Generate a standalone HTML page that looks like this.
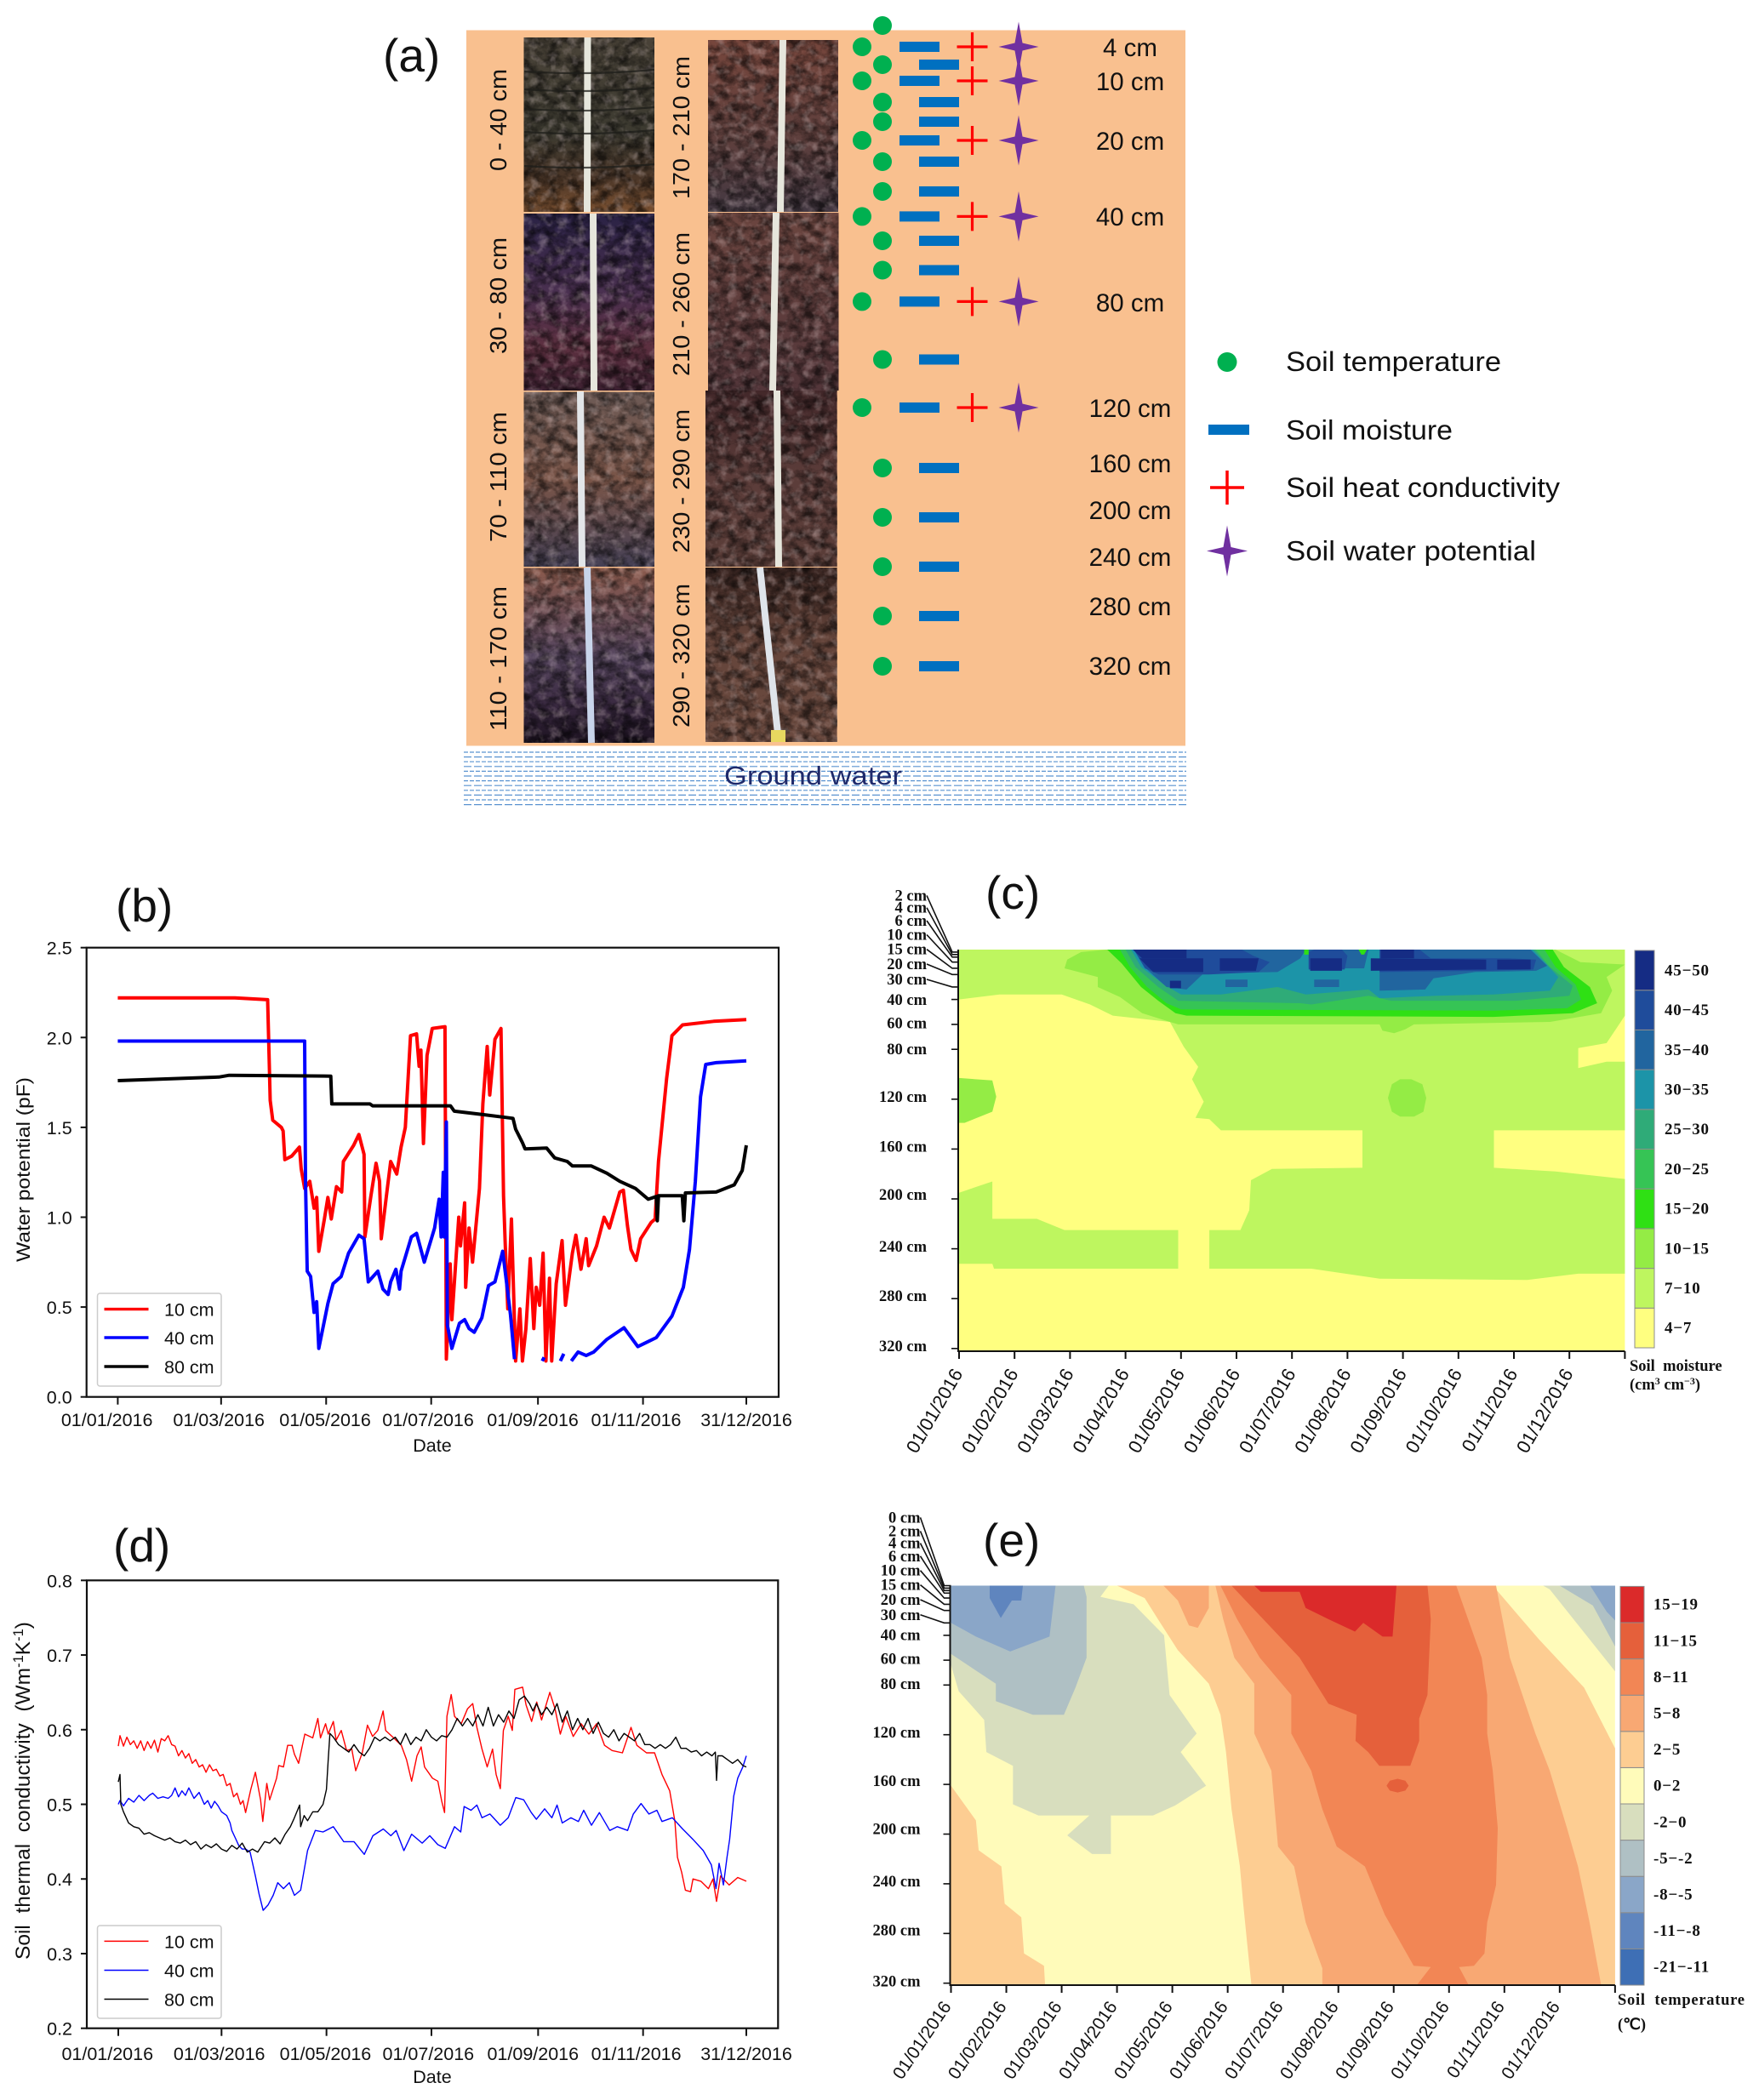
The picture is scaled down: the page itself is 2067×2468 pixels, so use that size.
<!DOCTYPE html>
<html lang="en">
<head>
<meta charset="utf-8">
<title>Soil profile and time series of soil properties</title>
<style>
html,body{margin:0;padding:0;background:#fff}
svg{display:block}
text{font-family:"Liberation Sans",sans-serif;fill:#111}
.serif{font-family:"Liberation Serif",serif;font-weight:bold}
</style>
</head>
<body>
<svg id="fig" xmlns="http://www.w3.org/2000/svg" width="2067" height="2468" viewBox="0 0 2067 2468">
<defs>
<filter id="rough" x="0" y="0" width="100%" height="100%">
<feTurbulence type="fractalNoise" baseFrequency="0.07 0.09" numOctaves="4" seed="7"/>
<feColorMatrix type="matrix" values="0 0 0 0 0  0 0 0 0 0  0 0 0 0 0  2.4 0 0 0 -0.85"/>
</filter>
<filter id="rough2" x="0" y="0" width="100%" height="100%">
<feTurbulence type="fractalNoise" baseFrequency="0.09" numOctaves="3" seed="21"/>
<feColorMatrix type="matrix" values="0 0 0 0 0.85  0 0 0 0 0.7  0 0 0 0 0.7  0 2 0 0 -0.95"/>
</filter>
<linearGradient id="p1" x1="0" y1="0" x2="0" y2="1"><stop offset="0" stop-color="#4a4338"/><stop offset=".55" stop-color="#3c3a30"/><stop offset=".8" stop-color="#4a3628"/><stop offset="1" stop-color="#7a5030"/></linearGradient>
<linearGradient id="p2" x1="0" y1="0" x2="0" y2="1"><stop offset="0" stop-color="#2a2245"/><stop offset=".45" stop-color="#4a3050"/><stop offset=".75" stop-color="#5d3040"/><stop offset="1" stop-color="#3c2030"/></linearGradient>
<linearGradient id="p3" x1="0" y1="0" x2="0" y2="1"><stop offset="0" stop-color="#6d5a55"/><stop offset=".5" stop-color="#7a5548"/><stop offset="1" stop-color="#454055"/></linearGradient>
<linearGradient id="p4" x1="0" y1="0" x2="0" y2="1"><stop offset="0" stop-color="#8a5a4c"/><stop offset=".5" stop-color="#55455e"/><stop offset=".8" stop-color="#38283f"/><stop offset="1" stop-color="#1c1220"/></linearGradient>
<linearGradient id="p5" x1="0" y1="0" x2="0" y2="1"><stop offset="0" stop-color="#76463c"/><stop offset=".6" stop-color="#5d3f3d"/><stop offset="1" stop-color="#433842"/></linearGradient>
<linearGradient id="p6" x1="0" y1="0" x2="0" y2="1"><stop offset="0" stop-color="#6b453f"/><stop offset="1" stop-color="#53363a"/></linearGradient>
<linearGradient id="p7" x1="0" y1="0" x2="0" y2="1"><stop offset="0" stop-color="#43282a"/><stop offset=".5" stop-color="#5c3d3a"/><stop offset="1" stop-color="#5a3d38"/></linearGradient>
<linearGradient id="p8" x1="0" y1="0" x2="0" y2="1"><stop offset="0" stop-color="#3a2622"/><stop offset=".4" stop-color="#64443a"/><stop offset="1" stop-color="#6c4b40"/></linearGradient>
</defs>

<rect x="0" y="0" width="2067" height="2468" fill="#fff"/>

<g id="panel-a">
<rect x="548" y="35.5" width="845" height="841" fill="#F9C08F"/>
<g id="water"></g>
<text x="851" y="922" font-size="31" textLength="209" lengthAdjust="spacingAndGlyphs" style="fill:#1F2A6B">Ground water</text>
<g id="photos"></g>
<g font-size="28">
<text transform="translate(595,201) rotate(-90)" textLength="120" lengthAdjust="spacingAndGlyphs">0 - 40 cm</text>
<text transform="translate(595,416) rotate(-90)" textLength="137" lengthAdjust="spacingAndGlyphs">30 - 80 cm</text>
<text transform="translate(595,637) rotate(-90)" textLength="153" lengthAdjust="spacingAndGlyphs">70 - 110 cm</text>
<text transform="translate(595,859) rotate(-90)" textLength="170" lengthAdjust="spacingAndGlyphs">110 - 170 cm</text>
<text transform="translate(810,234) rotate(-90)" textLength="168" lengthAdjust="spacingAndGlyphs">170 - 210 cm</text>
<text transform="translate(810,442) rotate(-90)" textLength="169" lengthAdjust="spacingAndGlyphs">210 - 260 cm</text>
<text transform="translate(810,650) rotate(-90)" textLength="169" lengthAdjust="spacingAndGlyphs">230 - 290 cm</text>
<text transform="translate(810,855) rotate(-90)" textLength="169" lengthAdjust="spacingAndGlyphs">290 - 320 cm</text>
</g>
<g id="markers"></g>
<g font-size="29.5" text-anchor="middle">
<text x="1328" y="66">4 cm</text>
<text x="1328" y="106">10 cm</text>
<text x="1328" y="176">20 cm</text>
<text x="1328" y="265">40 cm</text>
<text x="1328" y="366">80 cm</text>
<text x="1328" y="490">120 cm</text>
<text x="1328" y="555">160 cm</text>
<text x="1328" y="610">200 cm</text>
<text x="1328" y="665">240 cm</text>
<text x="1328" y="723">280 cm</text>
<text x="1328" y="793">320 cm</text>
</g>
<g font-size="32">
<circle cx="1442" cy="425.5" r="11.5" fill="#00B050"/>
<text x="1511" y="436" textLength="253" lengthAdjust="spacingAndGlyphs">Soil temperature</text>
<rect x="1420" y="499" width="48" height="12" fill="#0070C0"/>
<text x="1511" y="516.5" textLength="196" lengthAdjust="spacingAndGlyphs">Soil moisture</text>
<path d="M1422 573H1462M1442 553V593" stroke="#FF0000" stroke-width="3.5" fill="none"/>
<text x="1511" y="584" textLength="322" lengthAdjust="spacingAndGlyphs">Soil heat conductivity</text>
<path transform="translate(1442,647.5)" d="M0-30L4.5-4.5L24 0L4.5 4.5L0 30L-4.5 4.5L-24 0L-4.5-4.5Z" fill="#7030A0"/>
<text x="1511" y="658.5" textLength="294" lengthAdjust="spacingAndGlyphs">Soil water potential</text>
</g>
</g>

<g font-size="55">
<text x="450" y="84">(a)</text>
<text x="136" y="1083">(b)</text>
<text x="1158" y="1068">(c)</text>
<text x="133" y="1835">(d)</text>
<text x="1155" y="1829">(e)</text>
</g>

<g id="chart-b"></g>
<g id="chart-d"></g>
<g id="chart-c"></g>
<g id="chart-e"></g>

<text transform="translate(35,1483) rotate(-90)" font-size="22" textLength="217" lengthAdjust="spacingAndGlyphs">Water potential (pF)</text>
<text transform="translate(35,2303) rotate(-90)" font-size="24.5" style="white-space:pre">Soil  thermal  conductivity  (Wm<tspan font-size="16.5" dy="-8">-1</tspan><tspan dy="8">K</tspan><tspan font-size="16.5" dy="-8">-1</tspan><tspan dy="8">)</tspan></text>
<text class="serif" x="1915" y="1611" font-size="18.5" style="white-space:pre">Soil  moisture</text>
<text class="serif" x="1915" y="1633" font-size="18.5">(cm<tspan font-size="12" dy="-6">3</tspan><tspan dy="6"> cm</tspan><tspan font-size="12" dy="-6">−3</tspan><tspan dy="6">)</tspan></text>
<text class="serif" x="1901" y="2356" font-size="18.5" style="white-space:pre" textLength="149" lengthAdjust="spacing">Soil  temperature</text>
<text class="serif" x="1901" y="2385" font-size="18.5">(℃)</text>
</svg>

<script>
/* ---------- chart data ---------- */
const dateTickDays = [0, 60, 121, 182, 244, 305, 365];
const dateLabelDays = [-6.3, 58.7, 120.4, 180.2, 241, 301, 365];
const dateLabels = ['01/01/2016','01/03/2016','01/05/2016','01/07/2016','01/09/2016','01/11/2016','31/12/2016'];
const potentialTicks = [0, 0.5, 1, 1.5, 2, 2.5];
const conductivityTicks = [0.2, 0.3, 0.4, 0.5, 0.6, 0.7, 0.8];
const seriesNames = ['10 cm', '40 cm', '80 cm'];

const potential10 = [[0,2.22],[68,2.22],[87,2.21],[88,1.84],[88.5,1.65],[90,1.54],[95,1.5],[96,1.48],[97,1.32],[101,1.34],[105.5,1.39],[106.5,1.27],[108.5,1.16],[111.5,1.2],[114,1.05],[115.5,1.11],[116.7,0.81],[120,0.99],[122,1.11],[124,0.99],[127,1.17],[130,1.14],[131,1.31],[137,1.4],[140,1.46],[143,1.35],[143.5,0.89],[147,1.12],[150,1.3],[152,1.2],[153,0.88],[156,1.12],[158.5,1.31],[162,1.24],[164.5,1.39],[167,1.5],[170,2.01],[173.5,2.02],[175,1.84],[176,1.93],[177.5,1.41],[179.6,1.9],[182.6,2.05],[190,2.06],[190.8,0.21],[193,0.74],[194,0.43],[198,1],[199,0.84],[201.4,1.08],[202,0.61],[204,0.94],[206,0.75],[210,1.16],[212,1.63],[214.5,1.95],[216,1.68],[219,1.99],[222.5,2.05],[224,1.12],[225,0.85],[226.5,0.49],[228.6,0.99],[231,0.2],[233.5,0.49],[235,0.2],[237,0.38],[239.5,0.77],[241.6,0.38],[243,0.61],[245,0.51],[247,0.8],[248.6,0.2],[250.7,0.66],[252,0.2],[254.6,0.63],[258,0.87],[260,0.51],[264,0.8],[266,0.9],[269,0.71],[272,0.88],[273.4,0.73],[278,0.84],[282.4,1],[285.5,0.94],[291.5,1.14],[293.6,1.15],[296,0.95],[298,0.82],[301,0.76],[303.6,0.88],[309.7,0.97],[312,0.99],[314,1.31],[318.7,1.77],[321.8,2.01],[328,2.07],[346,2.09],[365,2.1]];
const potential40 = [[0,1.98],[108.5,1.98],[109,1.2],[110,0.7],[112,0.67],[114,0.47],[115.5,0.53],[116.7,0.27],[122,0.52],[125,0.63],[129.7,0.67],[134,0.8],[140,0.9],[143,0.88],[145.5,0.64],[151,0.7],[154,0.6],[157,0.57],[158.5,0.64],[161.5,0.71],[163.6,0.6],[164.5,0.7],[170.5,0.89],[173.5,0.91],[178,0.75],[184,0.94],[186.6,1.1],[187.8,0.89],[189,1.25],[189.6,0.89],[190.8,1.53],[191.4,0.4],[194,0.27],[198.4,0.41],[201.4,0.43],[204,0.38],[207,0.36],[211.4,0.44],[215.3,0.62],[219,0.64],[223.5,0.81],[225.6,0.65],[228,0.46],[230.4,0.21],null,[246.5,0.2],[247.6,0.22],null,[257,0.2],[259,0.24],null,[263.4,0.2],[267.3,0.25],[272,0.23],[276.4,0.25],[284,0.32],[294,0.385],[302,0.28],[312.7,0.33],[321.8,0.45],[328.4,0.61],[332,0.82],[335.4,1.2],[338.4,1.67],[341.4,1.85],[347.5,1.86],[365,1.87]];
const potential80 = [[0,1.76],[58.7,1.78],[64.7,1.79],[123.7,1.785],[124.3,1.63],[146.4,1.63],[148,1.62],[193.2,1.62],[195.4,1.59],[213,1.57],[229.5,1.55],[231,1.49],[235,1.415],[236.5,1.38],[249,1.385],[253.7,1.33],[261,1.31],[264,1.285],[275,1.285],[284,1.245],[291.5,1.2],[300.6,1.16],[308,1.1],[312.7,1.115],[313.3,0.98],[314,1.12],[327.8,1.12],[328.7,0.98],[329.6,1.135],[347.5,1.14],[358,1.18],[362.6,1.26],[365,1.4]];

const conductivity10 = [[0,.578],[1,.592],[3,.578],[5,.59],[7,.58],[9,.585],[11,.575],[13,.585],[15,.572],[17,.584],[19,.575],[21,.586],[23,.57],[25,.588],[27,.585],[29,.592],[31,.58],[33,.578],[35,.565],[37,.572],[39,.562],[41,.568],[43,.555],[45,.56],[47,.55],[49,.553],[51,.543],[53,.553],[55,.545],[57,.547],[59,.538],[61,.54],[63,.525],[65,.528],[67,.51],[69,.515],[71,.5],[72.5,.505],[74,.489],[77,.52],[79.7,.543],[82.7,.506],[84,.477],[86.3,.528],[88,.506],[92,.535],[93.3,.552],[96,.55],[98.4,.579],[101,.579],[102.4,.567],[104.8,.555],[108.4,.594],[113,.589],[116,.615],[117.5,.589],[120.5,.608],[122,.594],[125,.611],[126.6,.586],[129.6,.599],[132.7,.572],[135.7,.574],[138,.545],[141.8,.569],[144.8,.606],[147.8,.591],[150.8,.599],[153.9,.625],[155.4,.599],[160,.589],[164.5,.579],[167.5,.56],[170.5,.531],[173.6,.565],[176,.577],[178,.55],[182.6,.535],[185.7,.531],[188,.504],[189.6,.489],[191,.618],[193.5,.647],[195.4,.618],[199.3,.608],[203,.628],[206,.635],[208.4,.603],[211.4,.574],[214.4,.55],[217.5,.574],[219.6,.54],[222,.521],[223.8,.599],[226.6,.618],[229,.599],[230.5,.654],[235,.657],[237,.633],[240.2,.611],[243.2,.637],[246,.613],[250.8,.65],[253.8,.628],[256.9,.594],[260,.618],[264.4,.591],[269,.608],[273.5,.594],[278,.608],[282.6,.579],[287,.572],[293,.569],[298,.603],[301.4,.579],[307,.569],[311.7,.569],[316,.54],[320.5,.518],[323.5,.477],[325,.429],[327.4,.409],[329.6,.385],[332.6,.383],[334,.4],[338.6,.397],[343,.387],[345.6,.4],[347.7,.37],[350,.404],[355,.392],[360,.402],[365,.397]];
const conductivity40 = [[0,.5],[1,.505],[3,.498],[6,.508],[9,.503],[12,.512],[15,.505],[18,.512],[20,.515],[23,.508],[26,.51],[29,.508],[31,.512],[33,.522],[35,.51],[37,.518],[39,.512],[41,.522],[44,.508],[47,.516],[50,.5],[52,.505],[54,.495],[56,.504],[58,.498],[60,.49],[63,.485],[65,.475],[66,.465],[68,.455],[70,.445],[72,.44],[74,.44],[76.6,.436],[79.7,.404],[81.8,.38],[84.2,.358],[87,.365],[90,.378],[92.7,.395],[96,.387],[99.4,.395],[102.4,.378],[106,.385],[110,.438],[114.5,.465],[119,.463],[125,.47],[131,.45],[137,.45],[143,.433],[148,.458],[154,.467],[158.4,.458],[161.5,.465],[166,.438],[170.5,.46],[176.6,.448],[181,.458],[185.7,.446],[190,.441],[195.4,.47],[199,.463],[201,.497],[205,.492],[208.4,.499],[211.4,.482],[216,.487],[222,.472],[226.6,.482],[231,.509],[235.6,.506],[240,.489],[243,.48],[247.8,.494],[252,.482],[255,.499],[258,.475],[263,.482],[267.4,.477],[270.5,.492],[275,.472],[279.6,.489],[285.6,.465],[290,.47],[296,.465],[299.3,.487],[303.8,.501],[308.4,.487],[313,.492],[316,.477],[322,.482],[328,.467],[334,.453],[340,.438],[344.7,.419],[347.4,.387],[349.2,.421],[351.7,.392],[353.8,.429],[355.3,.453],[357.7,.511],[360,.535],[363,.55],[365,.565]];
const conductivity80 = [[0,.53],[1,.54],[1.5,.5],[3,.49],[6,.475],[9,.47],[12,.468],[15,.46],[18,.462],[21,.458],[24,.455],[27,.452],[30,.455],[33,.45],[36,.448],[39,.452],[42,.446],[45,.45],[48,.44],[51,.446],[54,.442],[57,.447],[60,.44],[63,.437],[66,.445],[69,.44],[72,.448],[75,.436],[78,.44],[81,.436],[85,.45],[88,.448],[91,.455],[94,.447],[97,.46],[100,.47],[102,.48],[105.4,.499],[106,.47],[108,.485],[110,.478],[113,.49],[116,.49],[119,.5],[121,.52],[122,.56],[123,.595],[125,.59],[128,.58],[131,.575],[134,.57],[137,.58],[140,.57],[143,.565],[146,.575],[149,.59],[152,.585],[155,.59],[158,.585],[161,.59],[164,.58],[167,.595],[170,.58],[173,.59],[176,.585],[179,.6],[182,.59],[185,.585],[188,.592],[191,.59],[194,.6],[197,.615],[200,.605],[203,.615],[206,.605],[209,.62],[212,.605],[215,.63],[218,.605],[221,.62],[224,.61],[227,.625],[230,.615],[233,.64],[236,.645],[239,.635],[241,.625],[243,.635],[246,.62],[249,.63],[252,.62],[255,.635],[258,.61],[261,.625],[264,.6],[267,.615],[270,.6],[273,.615],[276,.595],[279,.61],[282,.595],[285,.59],[288,.6],[291,.585],[294,.595],[297,.59],[300,.585],[303,.595],[306,.58],[309,.58],[312,.575],[315,.58],[318,.575],[321,.58],[324,.59],[327,.575],[330,.575],[333,.57],[336,.572],[339,.565],[342,.57],[345,.565],[347,.57],[347.7,.532],[348.5,.565],[351,.565],[354,.56],[357,.555],[360,.56],[363,.552],[365,.55]];

const monthLabels = ['01/01/2016','01/02/2016','01/03/2016','01/04/2016','01/05/2016','01/06/2016','01/07/2016','01/08/2016','01/09/2016','01/10/2016','01/11/2016','01/12/2016'];
const depthTicksC = [2,4,6,10,15,20,30,40,60,80,120,160,200,240,280,320];
const depthTicksE = [0,2,4,6,10,15,20,30,40,60,80,120,160,200,240,280,320];
const moistureBands = ['4−7','7−10','10−15','15−20','20−25','25−30','30−35','35−40','40−45','45−50'];
const moistureColors = ['#FFFF80','#BEF65F','#94EC45','#2FE014','#36C455','#2FAB78','#1C94A8','#21659F','#1F4C9B','#152C84'];
const temperatureBands = ['-21−-11','-11−-8','-8−-5','-5−-2','-2−0','0−2','2−5','5−8','8−11','11−15','15−19'];
const temperatureColors = ['#3E6FB5','#5F85BE','#8AA6C8','#AFC0C4','#D8DEBE','#FFFBBA','#FDCD92','#F8A873','#F28655','#E5603B','#DB2A2A'];

/* contour regions: band index, then month,depth pairs; painted in order over the base band */
const moistureContours = [
[1,[0,0,0,40,.73,36,1.85,36,2.36,44,2.77,53,3.8,58,4.05,78,4.31,94,4.2,104,4.41,122,4.26,135,4.51,136,4.72,145,7.27,145,7.27,175,5.64,176,5.26,185,5.23,209,5.07,225,4.51,225,4.51,256,6.35,256,7.58,264,10.24,265,11.16,260,12,260,12,184,10.75,178,9.64,175,9.64,145,12,145,12,90,11.67,90,11.16,95,11.16,79,11.67,75,11.88,61,12,53,12,0]],
[1,[0,195,.6,186,.6,216,1.4,216,1.9,225,3.95,225,3.95,256,.63,256,.6,252,0,252]],
[2,[0,103,.6,105,.67,118,.6,130,.1,139,0,139]],
[2,[7.73,119,7.8,108,7.95,104,8.15,104,8.35,108,8.42,119,8.37,130,8.2,134,7.95,134,7.8,130]],
[2,[2.67,0,2.2,2,1.95,8,1.9,15,2.5,22,2.5,30,2.9,38,3.3,51,3.8,58,3.95,60,7.58,60,7.63,65,7.84,67,8.04,64,8.2,60,10.65,58,11.57,51,11.77,33,11.67,22,12,12,11.2,10,10.75,0]],
[3,[2.67,0,2.93,11,3.28,30,3.59,41,3.9,51,4.1,53,9.63,54,11.06,51,11.5,43,11.37,30,10.9,14,10.7,0]],
[4,[2.9,0,3.08,14,3.39,30,3.74,43,4,48,9.63,49,10.96,47,11.21,40,11.11,28,10.75,14,10.55,0]],
[5,[3,0,3.18,14,3.59,30,3.95,41,6.15,43,6.35,44,7.38,37,7.79,41,10.04,41,11,37,11.06,29,10.65,14,10.39,0]],
[6,[3.1,0,3.28,14,3.69,28,4,36,4.72,36,5.74,30,6.25,36,7.38,32,7.58,39,8.6,37,9.63,36,10.65,33,10.8,22,10.34,0]],
[7,[3.15,0,3.39,16,3.74,30,4.1,32,4.41,19,5.74,18,6.15,7,6.25,0]],
[7,[6.3,0,6.3,15,7.3,15,7.38,0]],
[7,[7.58,0,7.58,33,8.4,32,8.55,23,9.3,18,10.4,17,10.6,13,10.3,0]],
[7,[4.8,24,5.2,24,5.2,30,4.8,30]],
[7,[6.4,24,6.85,24,6.85,30,6.4,30]],
[8,[3.15,0,3.35,15,3.6,20,4.5,20,5.4,18,5.6,10,5.3,5,5.1,0]],
[8,[6.3,2,6.3,16,6.95,16,7,5,6.9,0,6.4,0]],
[8,[7.58,0,7.58,18,9.5,17,10.35,16,10.4,8,9.9,7,8.5,7,8.3,0]],
[9,[3.13,0,4.1,0,4.1,7,3.3,7]],
[9,[3.25,7,4.4,7,4.4,18,3.5,18]],
[9,[4.7,7,5.4,7,5.35,17,4.7,17]],
[9,[6.33,7,6.9,7,6.9,17,6.33,17]],
[9,[7.42,7,9.5,8,9.5,16,7.42,17]],
[9,[9.7,8,10.3,8,10.3,16,9.7,16]],
[9,[7.6,0,8.2,0,8.2,7,7.6,7]],
[9,[3.8,25,4,25,4,31,3.8,31]],
[3,[6.22,0,6.3,0,6.3,4,6.22,4]],
[3,[7.2,0,7.35,0,7.3,4,7.25,4]]
];
const temperatureContours = [
[6,[3,0,3.5,10,3.74,27,4.1,52,4.66,79,4.87,104,4.97,134,5.07,180,5.22,226,5.28,256,5.35,287,5.43,322,12,322,12,131,11.44,82,10.62,43,9.85,3,9.8,0]],
[6,[0,161,.45,189,.5,213,.91,226,.97,256,1.27,267,1.32,296,1.68,306,1.7,322,0,322]],
[7,[3.84,0,4.66,0,4.66,18,4.46,34,4.3,32,4.1,12]],
[7,[4.78,0,4.92,27,5.12,58,5.48,79,5.48,119,5.79,149,5.91,210,6.2,226,6.41,271,6.71,308,6.71,322,11.75,322,11.54,271,11.33,226,11.13,195,10.82,149,10.56,119,10.1,58,9.85,0]],
[8,[4.87,0,5.17,27,5.58,58,6.15,88,6.15,119,6.51,149,6.71,180,6.97,210,7.48,226,7.84,265,8.36,306,8.67,307,8.41,322,9.36,322,9.18,307,9.45,306,9.64,296,9.69,271,9.85,241,9.88,195,9.79,149,9.69,119,9.69,88,9.59,58,9.13,0]],
[9,[5.07,0,6.3,58,6.82,95,7.33,104,7.31,125,7.54,134,7.74,145,8.3,145,8.46,125,8.46,107,8.61,88,8.67,27,8.61,0]],
[9,[7.87,161,7.93,157,8.07,155.5,8.21,157,8.27,161,8.21,165,8.07,166.5,7.93,165]],
[10,[5.48,0,5.6,5,6.3,5,6.41,18,6.82,27,7.3,37,7.45,30,7.8,41,7.98,41,8.05,0]],
[4,[2.4,0,2.85,0,2.7,9,3.3,15,3.85,40,3.95,88,4.44,119,4.15,134,4.61,161,4.05,177,3.65,185,2.89,185,2.89,216,2.55,216,2.1,201,2.5,185,1.58,185,1.12,176,1.12,145,.64,134,.6,108,.14,85,0,64,0,0]],
[3,[0,0,0,55,.81,79,.81,93,1.48,104,2.04,104,2.25,82,2.45,58,2.45,9,2.4,0]],
[2,[0,0,0,30,.25,36,.45,41,1.07,53,1.78,41,1.89,0]],
[1,[.7,0,.7,10,.9,26,1.1,12,1.27,12,1.3,0]],
[4,[10.7,0,10.82,3,12,69,12,0]],
[3,[11,0,11.6,16,12,49,12,0]],
[2,[11.55,0,11.85,21,12,28,12,0]]
];

/* ---------- helpers ---------- */
const NS = 'http://www.w3.org/2000/svg';
function mk(tag, attrs, parent, txt) {
  const el = document.createElementNS(NS, tag);
  for (const k in attrs) el.setAttribute(k, attrs[k]);
  if (txt !== undefined) el.textContent = txt;
  parent.appendChild(el);
  return el;
}
function pathFrom(pts, xf, yf) {
  let d = '', pen = false;
  for (const p of pts) {
    if (!p) { pen = false; continue; }
    d += (pen ? 'L' : 'M') + xf(p[0]).toFixed(1) + ' ' + yf(p[1]).toFixed(1);
    pen = true;
  }
  return d;
}

/* ---------- line charts ---------- */
function lineChart(root, cfg) {
  const xf = d => cfg.x0 + d * cfg.dx;
  const yf = v => cfg.y1 - (v - cfg.vmin) * cfg.dy;
  const right = cfg.right, top = yf(cfg.vmax), bottom = yf(cfg.vmin);
  cfg.series.forEach((s, i) => {
    const el = mk('path', {d: pathFrom(s, xf, yf), fill: 'none', stroke: cfg.colors[i], 'stroke-width': cfg.lw, 'stroke-linejoin': 'round'}, root);
    
    
  });
  const frame = mk('rect', {x: cfg.left, y: top, width: right - cfg.left, height: bottom - top, fill: 'none', stroke: '#111', 'stroke-width': 2.2}, root);
  
  
  cfg.yTicks.forEach(v => {
    const t = mk('line', {x1: cfg.left - 7, x2: cfg.left, y1: yf(v), y2: yf(v), stroke: '#111', 'stroke-width': 2}, root);
    
    
    const l = mk('text', {x: cfg.left - 17, y: yf(v) + 8, 'text-anchor': 'end', 'font-size': 21.5}, root, v.toFixed(1));
    
    
  });
  dateTickDays.forEach(d => {
    const t = mk('line', {x1: xf(d), x2: xf(d), y1: bottom, y2: bottom + 9, stroke: '#111', 'stroke-width': 2}, root);
    
    
  });
  dateLabels.forEach((s, i) => {
    const l = mk('text', {x: xf(dateLabelDays[i]), y: cfg.tickBase, 'text-anchor': 'middle', 'font-size': 21.5}, root, s);
    
    
  });
  const xt = mk('text', {x: 508, y: cfg.dateBase, 'text-anchor': 'middle', 'font-size': 21.5}, root, 'Date');
  
  
  const box = mk('rect', {x: 114.5, y: cfg.legendTop, width: 145.5, height: 109, rx: 3, fill: '#fff', stroke: '#ccc', 'stroke-width': 1.5}, root);
  
  
  seriesNames.forEach((n, i) => {
    const y = cfg.legendTop + cfg.legendRows[i];
    const ln = mk('line', {x1: 122.5, x2: 174.5, y1: y, y2: y, stroke: cfg.colors[i], 'stroke-width': cfg.legendLw}, root);
    
    
    const tx = mk('text', {x: 193, y: y + 8, 'font-size': 21.5}, root, n);
    
    
  });
}
lineChart(document.getElementById('chart-b'), {
  x0: 138.4, dx: 2.0236, y1: 1641.7, dy: 211.2, vmin: 0, vmax: 2.5, left: 101.7, right: 915,
  series: [potential10, potential40, potential80], colors: ['#FF0000', '#0000FF', '#000000'], lw: 4,
  yTicks: potentialTicks, tickBase: 1676, dateBase: 1706, legendTop: 1520, legendRows: [18.6, 52, 86], legendLw: 3.4
});
lineChart(document.getElementById('chart-d'), {
  x0: 139, dx: 2.0219, y1: 2383.7, dy: 877.3, vmin: 0.2, vmax: 0.8, left: 102, right: 914.3,
  series: [conductivity10, conductivity40, conductivity80], colors: ['#FF0000', '#0000FF', '#000000'], lw: 1.4,
  yTicks: conductivityTicks, tickBase: 2421, dateBase: 2448, legendTop: 2263, legendRows: [18.4, 52.5, 86.5], legendLw: 1.5
});

/* ---------- contour charts ---------- */
function contourChart(root, cfg) {
  const xf = m => cfg.x0 + m * cfg.dx;
  const yf = d => cfg.y0 + d * cfg.dy;
  const base = mk('rect', {x: xf(0), y: yf(0), width: xf(12) - xf(0), height: cfg.bottom - yf(0), fill: cfg.colors[cfg.base]}, root);
  
  
  cfg.contours.forEach(c => {
    let pts = '';
    for (let i = 0; i < c[1].length; i += 2) pts += xf(c[1][i]).toFixed(1) + ',' + yf(c[1][i + 1]).toFixed(1) + ' ';
    const el = mk('polygon', {points: pts, fill: cfg.colors[c[0]]}, root);
    
    
  });
  const ax = mk('path', {d: 'M' + (xf(0) - 1) + ' ' + yf(0) + 'V' + cfg.bottom + 'H' + xf(12), fill: 'none', stroke: '#111', 'stroke-width': 2}, root);
  
  
  for (let m = 0; m <= 12; m++) {
    const t = mk('line', {x1: xf(m), x2: xf(m), y1: cfg.bottom, y2: cfg.bottom + 9, stroke: '#111', 'stroke-width': 2}, root);
    
    
  }
  monthLabels.forEach((s, m) => {
    const l = mk('text', {transform: 'translate(' + (xf(m) + cfg.labelDx) + ',' + cfg.labelY + ') rotate(' + cfg.labelRot + ')', 'text-anchor': 'end', 'font-size': cfg.labelFont}, root, s);
    
    
  });
  cfg.depths.forEach((d, i) => {
    const yT = yf(d), yL = cfg.labelYs[i];
    const lead = Math.abs(yT - yL) > 6;
    const t = mk('path', {d: lead ? 'M' + cfg.labelRight + ' ' + yL + 'L' + (xf(0) - 8) + ' ' + yT + 'H' + xf(0)
                                 : 'M' + (xf(0) - 9) + ' ' + yT + 'H' + xf(0), fill: 'none', stroke: '#111', 'stroke-width': 1.6}, root);
    
    
    const l = mk('text', {x: cfg.labelRight, y: yL + 6, 'text-anchor': 'end', 'font-size': 18.5, class: 'serif'}, root, d + ' cm');
    
    
  });
  const n = cfg.bands.length, h = (cfg.barBottom - cfg.barTop) / n;
  cfg.bands.forEach((b, i) => {
    const y = cfg.barBottom - (i + 1) * h;
    const r = mk('rect', {x: cfg.barX, y: y, width: cfg.barW, height: h, fill: cfg.colors[i], stroke: '#8c8c8c', 'stroke-width': 1}, root);
    
    
    const l = mk('text', {x: cfg.barLabelX, y: y + h / 2 + 6, 'font-size': 19, 'letter-spacing': 0.8, class: 'serif'}, root, b);
    
    
  });
}
contourChart(document.getElementById('chart-c'), {
  x0: 1127, dx: 65.2, y0: 1116, dy: 1.465, bottom: 1588, base: 0, colors: moistureColors, contours: moistureContours,
  depths: depthTicksC, labelYs: [1052.4,1066.7,1082,1098.5,1115.7,1133,1151,1175,1202.6,1233,1289,1347.4,1404,1465,1523,1582],
  labelRight: 1089, labelDx: 5, labelY: 1614, labelRot: -60, labelFont: 22, bands: moistureBands,
  barX: 1921, barW: 23, barTop: 1117, barBottom: 1584, barLabelX: 1956
});
contourChart(document.getElementById('chart-e'), {
  x0: 1117.5, dx: 65.03, y0: 1863.5, dy: 1.46, bottom: 2333, base: 5, colors: temperatureColors, contours: temperatureContours,
  depths: depthTicksE, labelYs: [1783.4,1799.4,1813.6,1828.8,1845.7,1862.6,1880,1897.8,1921.4,1949.4,1979.2,2035.8,2093.2,2149.7,2210.8,2268.6,2328.7],
  labelRight: 1081.5, labelDx: 1, labelY: 2358, labelRot: -56, labelFont: 21, bands: temperatureBands,
  barX: 1904, barW: 28, barTop: 1864.4, barBottom: 2333, barLabelX: 1943
});

/* ---------- panel (a) diagram ---------- */
const photoSet = [
 [615.5,44,153.5,205,'p1',[[690.5,44],[690,249]],'#e6e6dc'],
 [615.5,251,153.5,208,'p2',[[697,251],[698,459]],'#e6e6dc'],
 [615.5,460.6,153.5,205.4,'p3',[[682,460],[684,666]],'#e2e5e8'],
 [615.5,667.5,153.5,205.5,'p4',[[690,667],[695,873]],'#c8d4ea'],
 [832,47,153,202,'p5',[[920,47],[917,249]],'#e6e6dc'],
 [832,250,153.5,209,'p6',[[912,250],[908,459]],'#e6e6dc'],
 [829,459,154.6,207,'p7',[[913,459],[915,666]],'#e6e6dc'],
 [829,667,154.6,205,'p8',[[893,667],[914,862]],'#dfe4ea']
];
const photos = document.getElementById('photos');
photoSet.forEach(p => {
  const a = mk('rect', {x: p[0], y: p[1], width: p[2], height: p[3], fill: 'url(#' + p[4] + ')'}, photos);
  
  
  const b = mk('rect', {x: p[0], y: p[1], width: p[2], height: p[3], filter: 'url(#rough)', opacity: 0.6}, photos);
  
  
  const c = mk('rect', {x: p[0], y: p[1], width: p[2], height: p[3], filter: 'url(#rough2)', opacity: 0.4}, photos);
  
  
  const r = mk('line', {x1: p[5][0][0], y1: p[5][0][1], x2: p[5][1][0], y2: p[5][1][1], stroke: p[6], 'stroke-width': 8}, photos);
  
  
});
[84, 105, 128, 155, 195].forEach(y => {
  const band = mk('path', {d: 'M616 ' + y + 'Q690 ' + (y + 5) + ' 769 ' + (y - 2), stroke: '#1e1e1a', 'stroke-width': 2.2, fill: 'none', opacity: 0.75}, photos);
  
  
});
const tapeEnd = mk('rect', {x: 906, y: 858, width: 17, height: 14, fill: '#e8d860'}, photos);



const water = document.getElementById('water');
for (let i = 0; i < 12; i++) {
  const l = mk('line', {x1: 545, x2: 1394, y1: 884 + i * 5.6, y2: 884 + i * 5.6, stroke: '#5A93D0', 'stroke-width': 1.2, 'stroke-dasharray': i % 2 ? '9 3' : '5 2'}, water);
  
  
}

const markers = document.getElementById('markers');
const innerRows = [55, 95, 165, 254.4, 354.4, 479];
const outerCircleRows = [30, 76, 120, 143, 190, 225, 283, 317.5, 422.5, 550, 608, 666, 724, 783];
innerRows.forEach(y => {
  const c = mk('circle', {cx: 1013, cy: y, r: 11, fill: '#00B050'}, markers);
  
  
  const r = mk('rect', {x: 1057, y: y - 6, width: 47, height: 12, fill: '#0070C0'}, markers);
  
  
  const p = mk('path', {d: 'M1124.5 ' + y + 'H1160.5M1142.5 ' + (y - 17) + 'V' + (y + 17), stroke: '#FF0000', 'stroke-width': 3.2, fill: 'none'}, markers);
  
  
  const s = mk('path', {transform: 'translate(1197,' + y + ')', d: 'M0-29.5L4.5-4.5L23.5 0L4.5 4.5L0 29.5L-4.5 4.5L-23.5 0L-4.5-4.5Z', fill: '#7030A0'}, markers);
  
  
});
outerCircleRows.forEach((y, i) => {
  const c = mk('circle', {cx: 1037, cy: y, r: 11, fill: '#00B050'}, markers);
  
  
  if (i > 0) {
    const r = mk('rect', {x: 1080, y: y - 6, width: 47, height: 12, fill: '#0070C0'}, markers);
    
    
  }
});
</script>
</body>
</html>
